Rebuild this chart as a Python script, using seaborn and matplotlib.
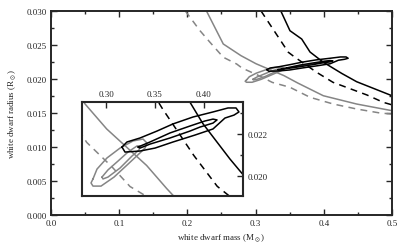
import matplotlib
matplotlib.use("Agg")
import matplotlib.pyplot as plt
import numpy as np
import pandas as pd
import seaborn as sns
from matplotlib.ticker import MultipleLocator

# mass-radius relations (mass in Msun, radius in Rsun)
black_solid_m = [0.337, 0.3504, 0.3676, 0.3798, 0.3988, 0.4265, 0.4482, 0.500]
black_solid_r = [0.0300, 0.02710, 0.02588, 0.02397, 0.02250, 0.02081, 0.01960, 0.01754]

black_dash_m = [0.308, 0.348, 0.3578, 0.3896, 0.4135, 0.4633, 0.4872, 0.500]
black_dash_r = [0.0300, 0.02393, 0.02319, 0.02098, 0.01951, 0.01765, 0.01657, 0.0162]

gray_solid_m = [0.228, 0.2526, 0.2786, 0.3007, 0.3211, 0.3415, 0.362, 0.3993, 0.4482, 0.500]
gray_solid_r = [0.0300, 0.02515, 0.02343, 0.02224, 0.02137, 0.0205, 0.0194, 0.01754, 0.01632, 0.01534]

gray_dash_m = [0.197, 0.2185, 0.2331, 0.2526, 0.2723, 0.2803, 0.3058, 0.3245, 0.3504,
               0.3798, 0.4139, 0.4482, 0.4824, 0.500]
gray_dash_r = [0.0300, 0.0271, 0.0254, 0.0232, 0.0222, 0.02160, 0.02045, 0.01950, 0.01878,
               0.01731, 0.01632, 0.01559, 0.0150, 0.01485]

# confidence contours (closed outlines)
black_outer_m = [0.3163, 0.3214, 0.3347, 0.3520, 0.3684, 0.3888, 0.4092, 0.4245, 0.4327,
                 0.4357, 0.4306, 0.4214, 0.4092, 0.3908, 0.3684, 0.3500, 0.3347, 0.3194, 0.3163]
black_outer_r = [0.02138, 0.02162, 0.02181, 0.02214, 0.02248, 0.02281, 0.02305, 0.02324, 0.02324,
                 0.02305, 0.02290, 0.02276, 0.02224, 0.02195, 0.02162, 0.02133, 0.02119, 0.02114, 0.02138]

black_inner_m = [0.3327, 0.3449, 0.3653, 0.3857, 0.4010, 0.4092, 0.4133, 0.4092, 0.3959,
                 0.3857, 0.3653, 0.3449, 0.3347, 0.3327]
black_inner_r = [0.02138, 0.02162, 0.02205, 0.02238, 0.02262, 0.02271, 0.02267, 0.02252, 0.02233,
                 0.02214, 0.02181, 0.02152, 0.02133, 0.02138]

gray_outer_m = [0.2867, 0.2908, 0.3010, 0.3143, 0.3276, 0.3378, 0.3418, 0.3398, 0.3347,
                0.3214, 0.3082, 0.2949, 0.2867, 0.2847, 0.2867]
gray_outer_r = [0.01986, 0.02033, 0.02086, 0.02133, 0.02167, 0.02176, 0.02157, 0.02133, 0.02110,
                0.02052, 0.01995, 0.01952, 0.01952, 0.01967, 0.01986]

gray_inner_m = [0.2959, 0.3020, 0.3122, 0.3224, 0.3316, 0.3347, 0.3337, 0.3265, 0.3143,
                0.3020, 0.2969, 0.2959]
gray_inner_r = [0.01995, 0.02029, 0.02071, 0.02114, 0.02143, 0.02143, 0.02124, 0.02095, 0.02038,
                0.01995, 0.01986, 0.01995]

GRAY = "#858585"

sns.set_style("ticks")
plt.rcParams["font.family"] = ["Liberation Serif", "DejaVu Serif"]
plt.rcParams["mathtext.fontset"] = "stix"
plt.rcParams["axes.linewidth"] = 1.4

fig = plt.figure(figsize=(4.07, 2.53), dpi=100, facecolor="white")
ax = fig.add_axes([0.1253, 0.1462, 0.8378, 0.8064])
ins = fig.add_axes([0.2015, 0.2213, 0.3955, 0.3716])


def draw(a, lw):
    curves = [
        (black_solid_m, black_solid_r, "black", "-"),
        (black_dash_m, black_dash_r, "black", (0, (4.5, 3.5))),
        (gray_solid_m, gray_solid_r, GRAY, "-"),
        (gray_dash_m, gray_dash_r, GRAY, (0, (4.5, 3.5))),
    ]
    for m, r, c, ls in curves:
        df = pd.DataFrame({"m": m, "r": r})
        sns.lineplot(data=df, x="m", y="r", sort=False, estimator=None, ax=a,
                     color=c, linestyle=ls, linewidth=lw)
    contours = [
        (gray_outer_m, gray_outer_r, GRAY),
        (gray_inner_m, gray_inner_r, GRAY),
        (black_outer_m, black_outer_r, "black"),
        (black_inner_m, black_inner_r, "black"),
    ]
    for m, r, c in contours:
        df = pd.DataFrame({"m": m, "r": r})
        sns.lineplot(data=df, x="m", y="r", sort=False, estimator=None, ax=a,
                     color=c, linewidth=lw)


draw(ax, 1.1)
ax.set_xlim(0, 0.5)
ax.set_ylim(0, 0.03)
ax.xaxis.set_major_locator(MultipleLocator(0.1))
ax.xaxis.set_minor_locator(MultipleLocator(0.05))
ax.yaxis.set_major_locator(MultipleLocator(0.005))
ax.yaxis.set_minor_locator(MultipleLocator(0.0025))
ax.xaxis.set_major_formatter(matplotlib.ticker.FormatStrFormatter("%.1f"))
ax.yaxis.set_major_formatter(matplotlib.ticker.FormatStrFormatter("%.3f"))
ax.tick_params(which="both", direction="in", top=True, right=True, labelsize=6.5,
               width=1.0, pad=3)
ax.tick_params(which="major", length=4)
ax.tick_params(which="minor", length=2.5)
ax.set_xlabel(r"white dwarf mass (M$_\odot$)", fontsize=6.5, labelpad=3)
ax.set_ylabel(r"white dwarf radius (R$_\odot$)", fontsize=6.5, labelpad=6)

draw(ins, 1.1)
ins.set_xlim(0.2755, 0.4398)
ins.set_ylim(0.019048, 0.023524)
ins.xaxis.set_major_locator(MultipleLocator(0.05))
ins.yaxis.set_major_locator(MultipleLocator(0.002))
ins.yaxis.set_minor_locator(MultipleLocator(0.001))
ins.xaxis.set_major_formatter(matplotlib.ticker.FormatStrFormatter("%.2f"))
ins.yaxis.set_major_formatter(matplotlib.ticker.FormatStrFormatter("%.3f"))
ins.xaxis.tick_top()
ins.yaxis.tick_right()
ins.tick_params(which="both", direction="in", labelsize=6.5, width=1.0, pad=3)
ins.tick_params(which="major", length=4)
ins.tick_params(which="minor", length=2.5)
ins.set_xlabel("")
ins.set_ylabel("")
for s in ins.spines.values():
    s.set_linewidth(1.5)

fig.savefig("out.png", dpi=100, facecolor="white")
